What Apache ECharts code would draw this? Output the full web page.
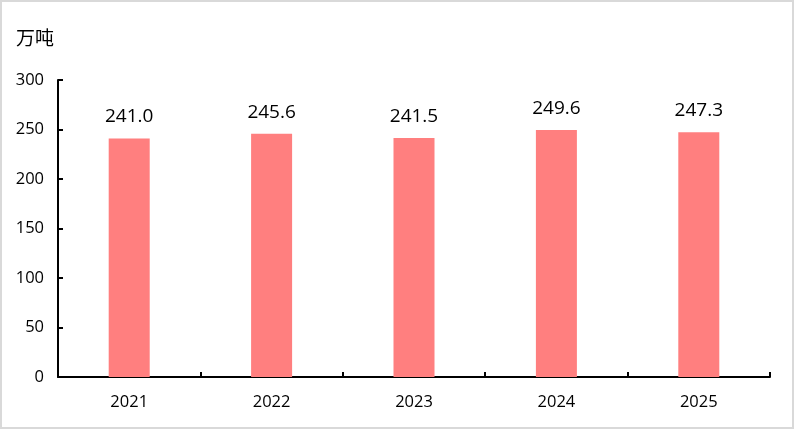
<!DOCTYPE html>
<html><head><meta charset="utf-8">
<script src="https://cdn.jsdelivr.net/npm/echarts@6/dist/echarts.min.js"></script>
<style>
html,body{margin:0;padding:0;background:#fff;}
#wrap{width:794px;height:429px;box-sizing:border-box;border:2px solid #d9d9d9;position:relative;}
#c{position:absolute;left:-2px;top:-2px;width:794px;height:429px;}
</style></head>
<body><div id="wrap"><div id="c"></div></div>
<script>
const categories = ['2021','2022','2023','2024','2025'];
const values = [241.0, 245.6, 241.5, 249.6, 247.3];
const unitLabel = '万吨';

const chart = echarts.init(document.getElementById('c'));
chart.setOption({
  animation: false,
  textStyle: {fontFamily: '"Open Sans", "Noto Sans CJK SC", sans-serif'},
  graphic: [{
    type: 'text', left: 16, top: 28,
    style: {text: unitLabel, font: '19px "Noto Sans CJK SC", sans-serif', fill: '#000'}
  }],
  grid: {left: 58, right: 24, top: 80, bottom: 52, containLabel: false},
  xAxis: {
    type: 'category', data: categories,
    axisLine: {lineStyle: {color: '#000', width: 2}},
    axisTick: {show: true, inside: true, length: 5, lineStyle: {color: '#000', width: 2}},
    axisLabel: {color: '#000', fontSize: 16.5, margin: 17, fontFamily: '"Open Sans", sans-serif'}
  },
  yAxis: {
    type: 'value', min: 0, max: 300, interval: 50,
    axisLine: {show: true, lineStyle: {color: '#000', width: 2}},
    axisTick: {show: true, inside: true, length: 5, lineStyle: {color: '#000', width: 2}},
    splitLine: {show: false},
    axisLabel: {color: '#000', fontSize: 16.5, margin: 14, fontFamily: '"Open Sans", sans-serif'}
  },
  series: [{
    type: 'bar', data: values, barWidth: 41,
    itemStyle: {color: '#FF7F7F'},
    label: {show: true, position: 'top', distance: 12, color: '#000', fontSize: 19,
      fontFamily: '"Open Sans", sans-serif',
      formatter: p => p.value.toFixed(1)}
  }]
});
</script></body></html>
